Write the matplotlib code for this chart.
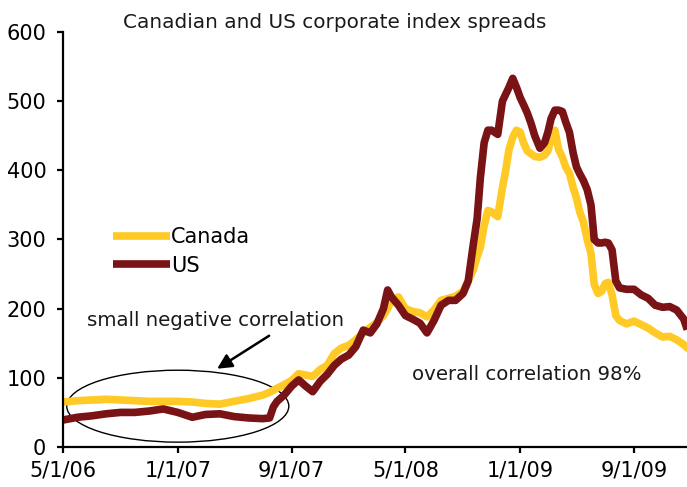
import numpy as np
import pandas as pd
import matplotlib
matplotlib.use("Agg")
import matplotlib.pyplot as plt
import matplotlib.dates as mdates
from matplotlib.patches import Ellipse

# dates of the readings (roughly twice a month, denser where the curves move)
dates = ["2006-05-01", "2006-06-01", "2006-07-01", "2006-08-01", "2006-09-01", "2006-10-01",
         "2006-11-01", "2006-12-01", "2007-01-01", "2007-02-01", "2007-03-01", "2007-04-01",
         "2007-05-01", "2007-06-01", "2007-07-01", "2007-07-16", "2007-07-24", "2007-08-01",
         "2007-08-16", "2007-09-01", "2007-09-16", "2007-10-01", "2007-10-16", "2007-11-01",
         "2007-11-16", "2007-12-01", "2007-12-16", "2008-01-01", "2008-01-16", "2008-02-01",
         "2008-02-16", "2008-03-01", "2008-03-15", "2008-03-24", "2008-04-01", "2008-04-16",
         "2008-05-01", "2008-05-16", "2008-06-01", "2008-06-16", "2008-07-01", "2008-07-16",
         "2008-08-01", "2008-08-16", "2008-09-01", "2008-09-12", "2008-09-22", "2008-10-01",
         "2008-10-08", "2008-10-16", "2008-10-24", "2008-11-01", "2008-11-14", "2008-11-24",
         "2008-12-01", "2008-12-08", "2008-12-16", "2008-12-24", "2009-01-01", "2009-01-08",
         "2009-01-16", "2009-01-24", "2009-02-01", "2009-02-12", "2009-02-22", "2009-03-01",
         "2009-03-08", "2009-03-16", "2009-03-24", "2009-04-01", "2009-04-08", "2009-04-16",
         "2009-04-24", "2009-05-01", "2009-05-08", "2009-05-16", "2009-05-24", "2009-06-01",
         "2009-06-08", "2009-06-16", "2009-06-24", "2009-07-01", "2009-07-08", "2009-07-16",
         "2009-07-24", "2009-08-01", "2009-08-16", "2009-09-01", "2009-09-16", "2009-10-01",
         "2009-10-16", "2009-11-01", "2009-11-16", "2009-12-01", "2009-12-16", "2009-12-21"]

canada = [65, 67, 68, 69, 68, 67,
          66, 66, 66, 65, 63, 62,
          66, 70, 75, 79, 82, 85,
          90, 96, 106, 104, 102, 112,
          118, 135, 143, 147, 155, 165,
          173, 180, 190, 200, 212, 217,
          200, 196, 194, 188, 198, 212,
          215, 218, 225, 240, 255, 275,
          289, 320, 342, 340, 333, 375,
          400, 430, 448, 458, 455, 440,
          428, 424, 420, 419, 422, 428,
          445, 458, 430, 419, 405, 396,
          375, 360, 340, 325, 300, 280,
          235, 222, 225, 236, 238, 220,
          190, 183, 178, 182, 177, 172,
          165, 159, 160, 155, 148, 145]

us = [39, 43, 45, 48, 50, 50,
      52, 55, 50, 43, 47, 48,
      44, 42, 41, 42, 58, 66,
      75, 88, 97, 88, 80, 95,
      105, 118, 127, 133, 145, 169,
      165, 178, 200, 227, 217, 205,
      190, 185, 179, 165, 183, 205,
      212, 212, 222, 240, 289, 330,
      390, 440, 458, 458, 452, 500,
      510, 520, 533, 520, 505, 495,
      483, 468, 450, 432, 440, 455,
      475, 487, 487, 485, 470, 455,
      425, 405, 395, 385, 372, 350,
      300, 295, 295, 296, 295, 285,
      240, 230, 228, 228, 220, 215,
      205, 202, 203, 198, 185, 175]

xticks = ["2006-05-01", "2007-01-01", "2007-09-01", "2008-05-01", "2009-01-01", "2009-09-01"]
xtick_labels = ["5/1/06", "1/1/07", "9/1/07", "5/1/08", "1/1/09", "9/1/09"]
yticks = [0, 100, 200, 300, 400, 500, 600]

plt.rcParams['font.family'] = ['DejaVu Sans']

x = pd.to_datetime(dates)

fig = plt.figure(figsize=(6.87, 4.87), dpi=100)
ax = fig.add_axes([63/687, 40/487, 1 - 63/687, 415/487])

ax.plot(x, canada, color='#FFC926', lw=5.5, solid_joinstyle='round', label='Canada')
ax.plot(x, us, color='#7A1315', lw=5.5, solid_joinstyle='round', label='US')

ax.set_xlim(pd.Timestamp("2006-05-01"), pd.Timestamp("2009-12-23"))
ax.set_ylim(0, 600)
ax.set_xticks(pd.to_datetime(xticks))
ax.set_xticklabels(xtick_labels)
ax.set_yticks(yticks)

for s in ['top', 'right']:
    ax.spines[s].set_visible(False)
for s in ['left', 'bottom']:
    ax.spines[s].set_linewidth(1.6)
ax.tick_params(direction='out', length=4, width=1.6, labelsize=15, colors='black')
ax.tick_params(axis='y', pad=8)
ax.tick_params(axis='x', pad=6)

fig.text(335/687, 1 - 22/487, "Canadian and US corporate index spreads",
         fontsize=14.4, ha='center', va='center', color='#1a1a1a')

leg = ax.legend(loc='upper left', bbox_to_anchor=(113/687, 1 - 227/487),
                bbox_transform=fig.transFigure, frameon=False, borderpad=0, borderaxespad=0,
                fontsize=15, handlelength=2.75, handletextpad=0.05, labelspacing=0.42)
for ln in leg.get_lines():
    ln.set_linewidth(5.5)
    ln.set_solid_capstyle('butt')

# ellipse round the first year
ell = Ellipse((mdates.date2num(pd.Timestamp("2007-01-01")), 59), width=474, height=104,
              fill=False, edgecolor='black', lw=1)
ax.add_patch(ell)

ax.annotate("", xy=(mdates.date2num(pd.Timestamp("2007-03-21")), 111),
            xytext=(mdates.date2num(pd.Timestamp("2007-07-20")), 163),
            arrowprops=dict(arrowstyle='-|>', color='black', lw=1.8, mutation_scale=22))

ax.text(mdates.date2num(pd.Timestamp("2006-06-22")), 183, "small negative correlation",
        fontsize=14.2, ha='left', va='center', color='#1a1a1a')
ax.text(mdates.date2num(pd.Timestamp("2008-05-14")), 105, "overall correlation 98%",
        fontsize=14.2, ha='left', va='center', color='#1a1a1a')

fig.savefig("out.png", dpi=100)
